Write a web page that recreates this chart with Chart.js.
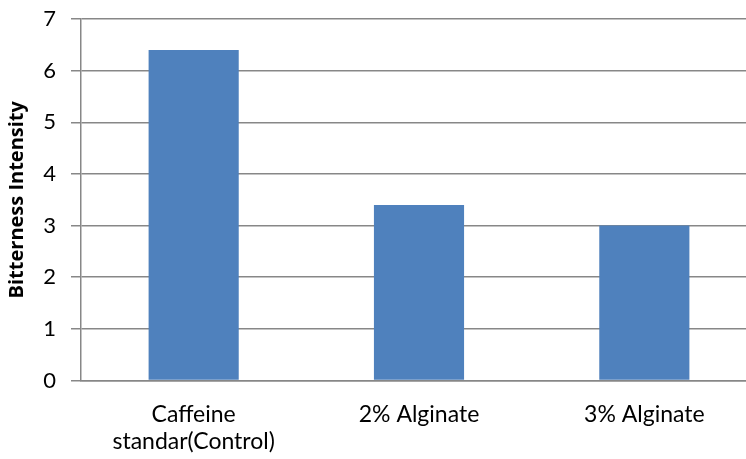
<!DOCTYPE html>
<html>
<head>
<meta charset="utf-8">
<script src="https://cdn.jsdelivr.net/npm/chart.js@4/dist/chart.umd.min.js"></script>
<style>
  html, body { margin: 0; padding: 0; background: #fff; overflow: hidden; }
  #wrap { position: relative; width: 772px; height: 459px; }
</style>
</head>
<body>
<div id="wrap"><canvas id="c" width="772" height="459"></canvas></div>
<script>
// Bitterness intensity per formulation
const categories = [["Caffeine", "standar(Control)"], "2% Alginate", "3% Alginate"];
const bitterness = [6.4, 3.4, 3.0];
const yTicks = [0, 1, 2, 3, 4, 5, 6, 7];

const FONT = "Lato, 'Open Sans', sans-serif";
const TITLE_FONT = "'Open Sans', Lato, sans-serif";
const GRID = "#878787";

new Chart(document.getElementById("c"), {
  type: "bar",
  data: {
    labels: categories,
    datasets: [{
      data: bitterness,
      backgroundColor: "#4F81BD",
      borderWidth: 0,
      barPercentage: 0.4,
      categoryPercentage: 1.0
    }]
  },
  options: {
    responsive: false,
    animation: false,
    layout: { padding: { top: 19, right: 15, left: 0, bottom: 0 } },
    plugins: { legend: { display: false }, tooltip: { enabled: false } },
    scales: {
      x: {
        grid: { display: false },
        border: { display: true, color: GRID, width: 1.5 },
        ticks: {
          color: "#000",
          font: { family: FONT, size: 23, lineHeight: 1.2 },
          padding: 12,
          maxRotation: 0
        },
        afterFit: (s) => { s.height = 78.5; s.paddingLeft = 0; s.paddingRight = 0; }
      },
      y: {
        min: 0,
        max: 7,
        afterBuildTicks: (s) => { s.ticks = yTicks.map(v => ({ value: v })); },
        grid: { color: GRID, lineWidth: 1.5, tickLength: 10, drawTicks: true },
        border: { display: true, color: GRID, width: 1.5 },
        ticks: {
          color: "#000",
          font: { family: FONT, size: 22 },
          padding: 15
        },
        title: {
          display: true,
          text: "Bitterness Intensity",
          color: "#000",
          font: { family: TITLE_FONT, size: 20, weight: "bold" },
          padding: { top: 5, bottom: 0 }
        },
        afterFit: (s) => { s.width = 81; s.paddingTop = 0; s.paddingBottom = 0; }
      }
    }
  }
});
</script>
</body>
</html>
